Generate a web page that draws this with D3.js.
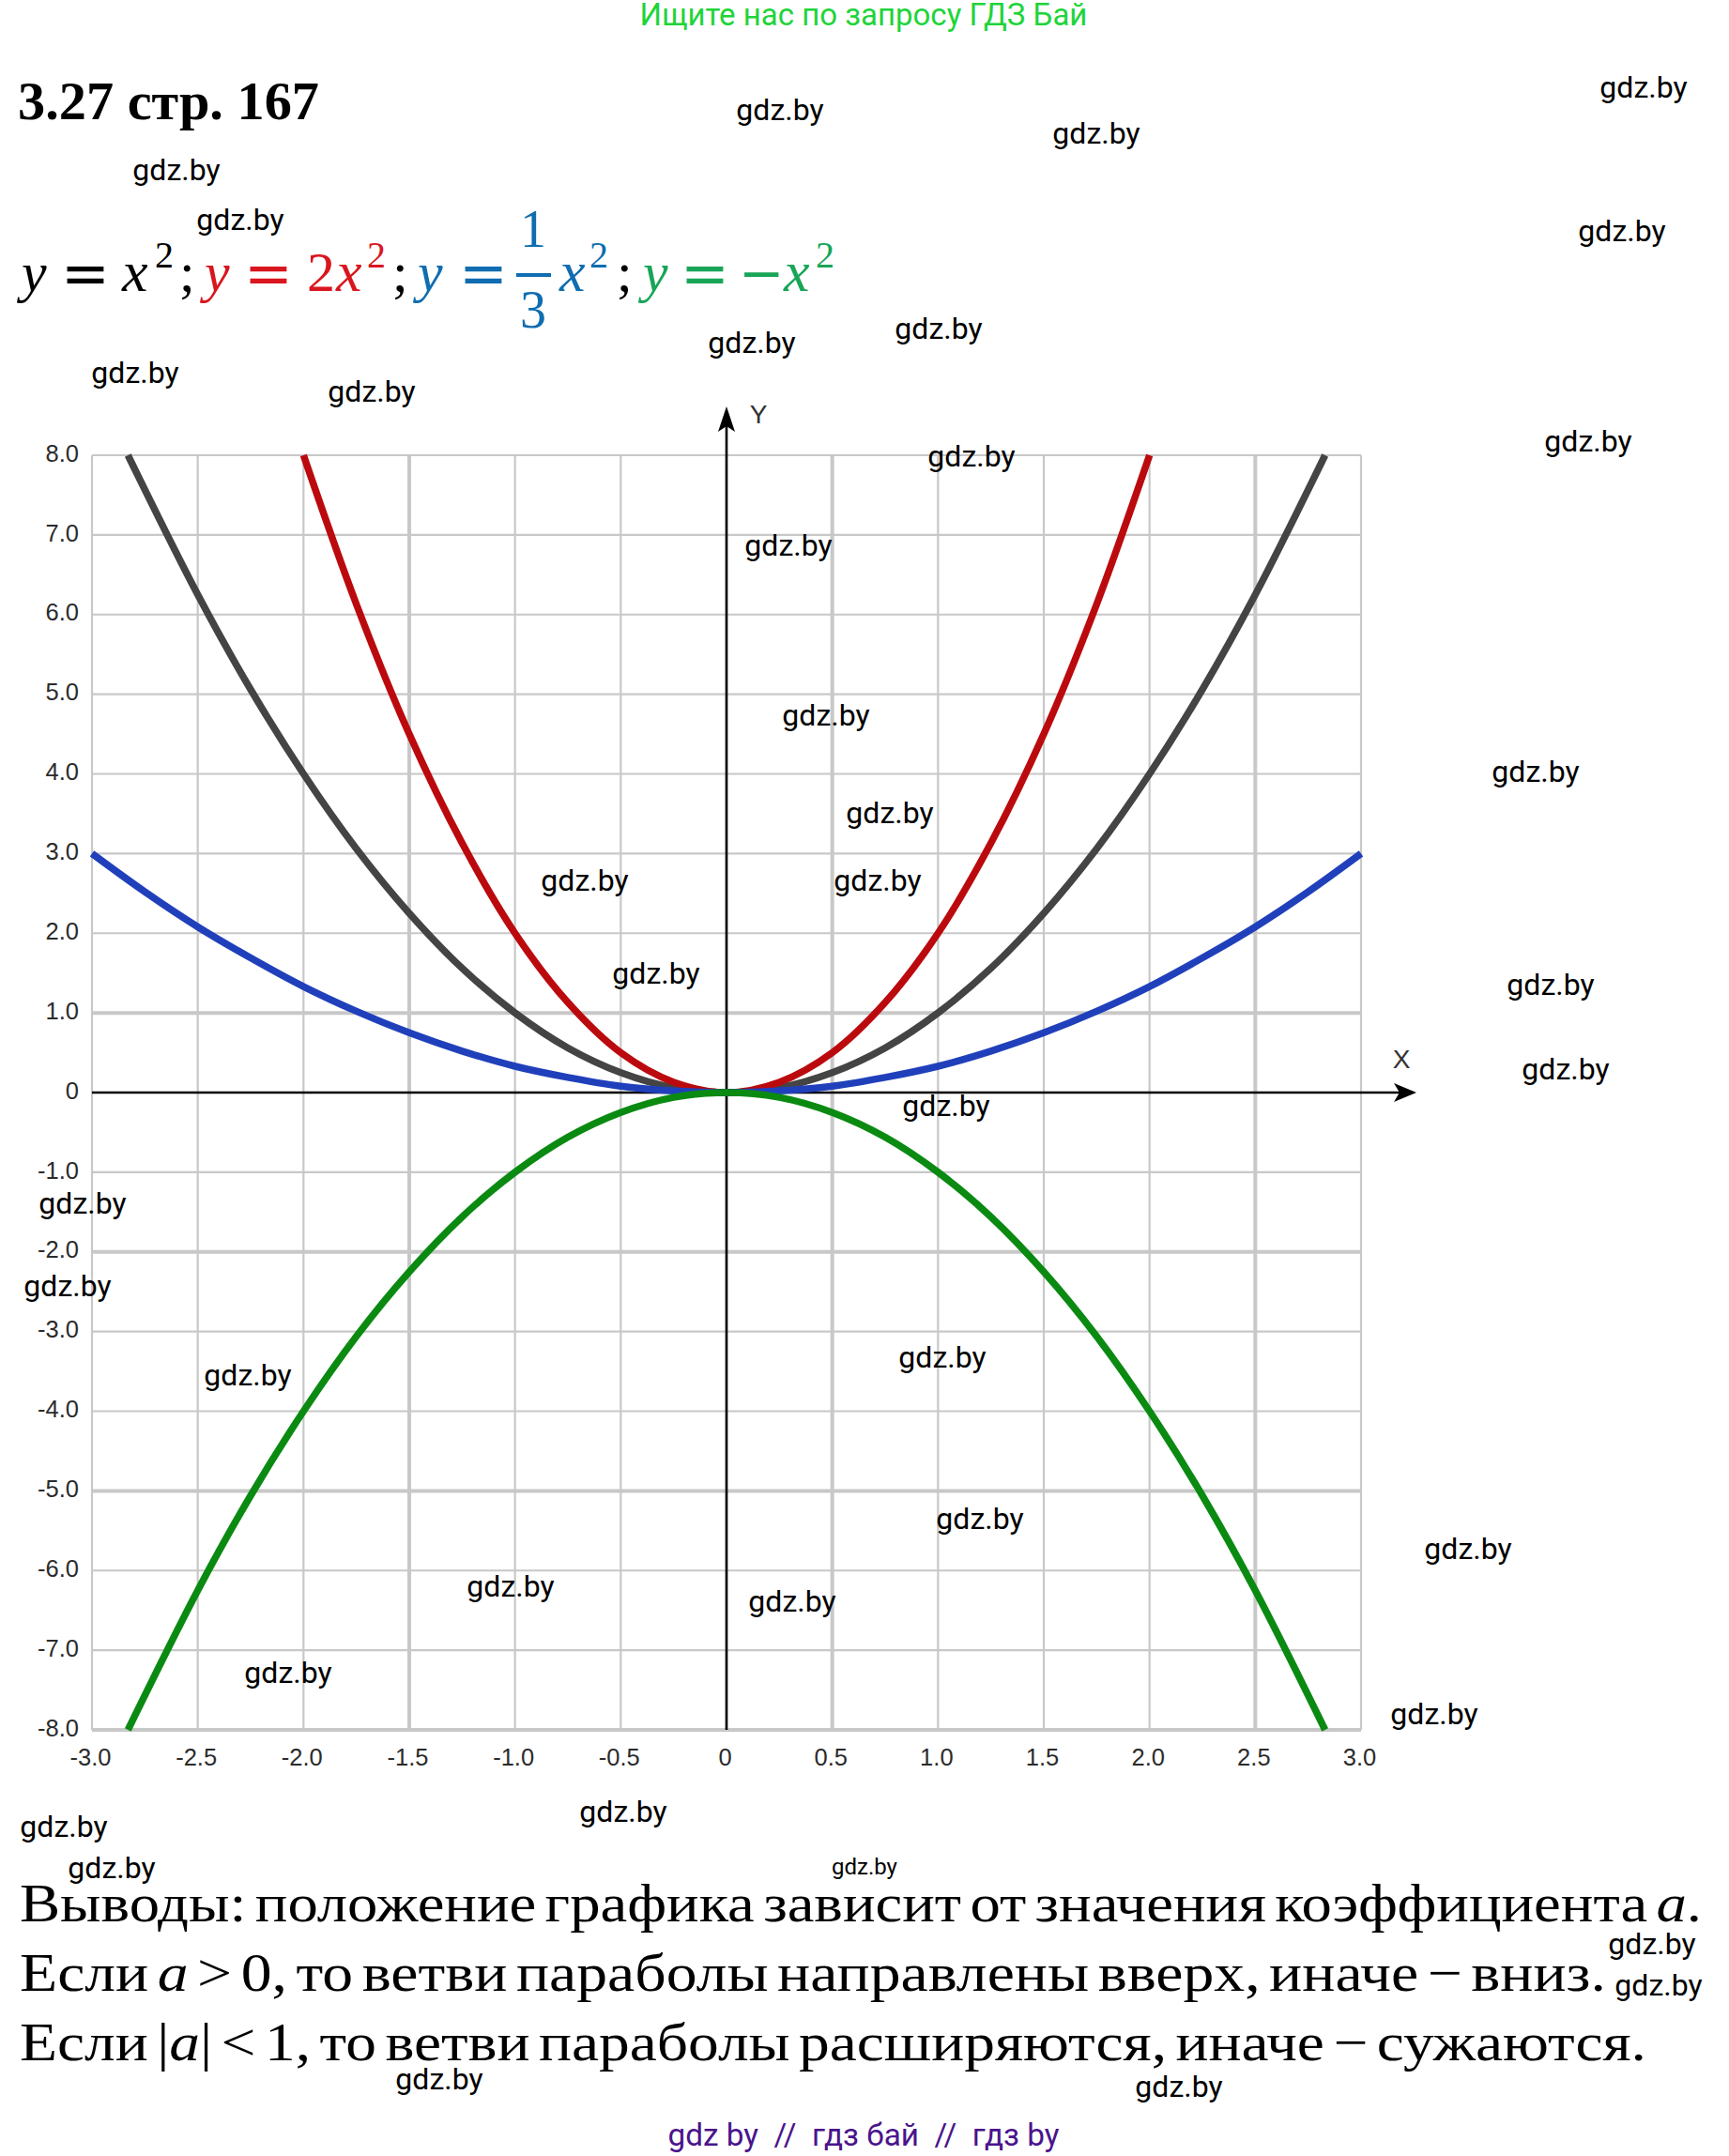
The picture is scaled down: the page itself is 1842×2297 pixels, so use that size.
<!DOCTYPE html>
<html>
<head>
<meta charset="utf-8">
<script src="https://cdn.jsdelivr.net/npm/d3@7"></script>
<style>
  html, body { margin: 0; padding: 0; background: #fff; }
  svg { display: block; }
</style>
</head>
<body>
<div id="graph"></div>
<script>
// values
const xTicks = [-3, -2.5, -2, -1.5, -1, -0.5, 0, 0.5, 1, 1.5, 2, 2.5, 3];
const xTickLabels = ["-3.0", "-2.5", "-2.0", "-1.5", "-1.0", "-0.5", "0", "0.5", "1.0", "1.5", "2.0", "2.5", "3.0"];
const yTicks = [8, 7, 6, 5, 4, 3, 2, 1, 0, -1, -2, -3, -4, -5, -6, -7, -8];
const yTickLabels = ["8.0", "7.0", "6.0", "5.0", "4.0", "3.0", "2.0", "1.0", "0", "-1.0", "-2.0", "-3.0", "-4.0", "-5.0", "-6.0", "-7.0", "-8.0"];

const xBlack = [-2.83, -2.5, -2.25, -2, -1.75, -1.5, -1.25, -1, -0.75, -0.5, -0.25, 0, 0.25, 0.5, 0.75, 1, 1.25, 1.5, 1.75, 2, 2.25, 2.5, 2.83];
const yBlack = [8, 6.25, 5.06, 4, 3.06, 2.25, 1.56, 1, 0.56, 0.25, 0.06, 0, 0.06, 0.25, 0.56, 1, 1.56, 2.25, 3.06, 4, 5.06, 6.25, 8];

const xRed = [-2, -1.75, -1.5, -1.25, -1, -0.75, -0.5, -0.25, 0, 0.25, 0.5, 0.75, 1, 1.25, 1.5, 1.75, 2];
const yRed = [8, 6.13, 4.5, 3.13, 2, 1.13, 0.5, 0.13, 0, 0.13, 0.5, 1.13, 2, 3.13, 4.5, 6.13, 8];

const xBlue = [-3, -2.75, -2.5, -2.25, -2, -1.75, -1.5, -1.25, -1, -0.75, -0.5, -0.25, 0, 0.25, 0.5, 0.75, 1, 1.25, 1.5, 1.75, 2, 2.25, 2.5, 2.75, 3];
const yBlue = [3, 2.52, 2.08, 1.69, 1.33, 1.02, 0.75, 0.52, 0.33, 0.19, 0.08, 0.02, 0, 0.02, 0.08, 0.19, 0.33, 0.52, 0.75, 1.02, 1.33, 1.69, 2.08, 2.52, 3];

const xGreen = [-2.83, -2.5, -2.25, -2, -1.75, -1.5, -1.25, -1, -0.75, -0.5, -0.25, 0, 0.25, 0.5, 0.75, 1, 1.25, 1.5, 1.75, 2, 2.25, 2.5, 2.83];
const yGreen = [-8, -6.25, -5.06, -4, -3.06, -2.25, -1.56, -1, -0.56, -0.25, -0.06, 0, -0.06, -0.25, -0.56, -1, -1.56, -2.25, -3.06, -4, -5.06, -6.25, -8];

// grid lines that come out heavier in the picture
const thickX = [-1.5, 0.5, 2.5];
const thickY = [1, -2, -5, -8];

const width = 1842;
const height = 2297;
const serif = "'Liberation Serif', serif";
const sans = "'Liberation Sans', sans-serif";
const mathSans = "'DejaVu Sans', sans-serif";

const svg = d3.select("#graph")
  .append("svg")
  .attr("width", width)
  .attr("height", height);

const x = d3.scaleLinear().domain([-3, 3]).range([98, 1450]);
const y = d3.scaleLinear().domain([8, -8]).range([485, 1843]);

// grid
svg.append("g")
  .selectAll("line")
  .data(xTicks)
  .enter()
  .append("line")
  .attr("x1", d => x(d))
  .attr("x2", d => x(d))
  .attr("y1", y(8))
  .attr("y2", y(-8))
  .style("stroke", "#c8c8c8")
  .style("stroke-width", d => thickX.includes(d) ? 4 : 2.2);

svg.append("g")
  .selectAll("line")
  .data(yTicks)
  .enter()
  .append("line")
  .attr("x1", x(-3))
  .attr("x2", x(3))
  .attr("y1", d => y(d))
  .attr("y2", d => y(d))
  .style("stroke", "#c8c8c8")
  .style("stroke-width", d => thickY.includes(d) ? 4 : 2.2);

// tick labels
const xAxis = d3.axisBottom(x)
  .tickValues(xTicks)
  .tickFormat((d, i) => xTickLabels[i])
  .tickSize(0)
  .tickPadding(20);
const yAxis = d3.axisLeft(y)
  .tickValues(yTicks)
  .tickFormat((d, i) => yTickLabels[i])
  .tickSize(0)
  .tickPadding(14);

svg.append("g").attr("transform", `translate(-2,${y(-8)})`).call(xAxis)
  .call(g => g.select(".domain").remove())
  .selectAll("text").style("font", `25.5px ${sans}`).style("fill", "#2b2b2b");
svg.append("g").attr("transform", `translate(${x(-3)},-2)`).call(yAxis)
  .call(g => g.select(".domain").remove())
  .selectAll("text").style("font", `25.5px ${sans}`).style("fill", "#2b2b2b");

// axes with arrows
svg.append("line").attr("x1", x(-3)).attr("x2", 1492).attr("y1", y(0)).attr("y2", y(0))
  .style("stroke", "#000").style("stroke-width", 2.6);
svg.append("line").attr("x1", x(0)).attr("x2", x(0)).attr("y1", y(-8)).attr("y2", 450)
  .style("stroke", "#000").style("stroke-width", 2.6);
svg.append("path")
  .attr("d", `M1509,${y(0)} L1485,${y(0) - 10} L1491,${y(0)} L1485,${y(0) + 10} Z`)
  .style("fill", "#000");
svg.append("path")
  .attr("d", `M${x(0)},433 L${x(0) - 9},460 L${x(0)},454 L${x(0) + 9},460 Z`)
  .style("fill", "#000");
svg.append("text").attr("x", 1493).attr("y", 1138).attr("text-anchor", "middle")
  .style("font", `28px ${sans}`).style("fill", "#333").text("X");
svg.append("text").attr("x", 808).attr("y", 451).attr("text-anchor", "middle")
  .style("font", `28px ${sans}`).style("fill", "#333").text("Y");

// curves
const line = d3.line()
  .x(d => x(d[0]))
  .y(d => y(d[1]))
  .curve(d3.curveCatmullRom.alpha(0.5));

const curves = [
  { xs: xBlack, ys: yBlack, color: "#444444" },
  { xs: xRed, ys: yRed, color: "#bb0a0e" },
  { xs: xBlue, ys: yBlue, color: "#2040bb" },
  { xs: xGreen, ys: yGreen, color: "#0b8a12" }
];

svg.append("g")
  .selectAll("path")
  .data(curves)
  .enter()
  .append("path")
  .attr("d", d => line(d.xs.map((v, i) => [v, d.ys[i]])))
  .style("fill", "none")
  .style("stroke", d => d.color)
  .style("stroke-width", 7.5);

// title and formula
svg.append("text").attr("x", 19).attr("y", 127)
  .attr("textLength", 321).attr("lengthAdjust", "spacingAndGlyphs")
  .style("font", `bold 58px ${serif}`).style("fill", "#000").text("3.27 стр. 167");

const formula = [
  ["y", 23, 310, 60, "italic", "#000", serif], ["=", 65, 313, 62, "normal", "#000", mathSans], ["x", 130, 310, 62, "italic", "#000", serif],
  ["2", 165, 285, 40, "normal", "#000", serif], [";", 191, 310, 60, "normal", "#000", serif],
  ["y", 218, 310, 60, "italic", "#d9161e", serif], ["=", 260, 313, 62, "normal", "#d9161e", mathSans], ["2", 327, 310, 60, "normal", "#d9161e", serif],
  ["x", 358, 310, 62, "italic", "#d9161e", serif], ["2", 391, 285, 40, "normal", "#d9161e", serif], [";", 418, 310, 60, "normal", "#000", serif],
  ["y", 445, 310, 60, "italic", "#0f6db0", serif], ["=", 489, 313, 62, "normal", "#0f6db0", mathSans], ["1", 554, 263, 56, "normal", "#0f6db0", serif],
  ["3", 554, 349, 56, "normal", "#0f6db0", serif], ["x", 596, 310, 62, "italic", "#0f6db0", serif], ["2", 628, 285, 40, "normal", "#0f6db0", serif],
  [";", 657, 310, 60, "normal", "#000", serif],
  ["y", 685, 310, 60, "italic", "#18a558", serif], ["=", 725, 313, 62, "normal", "#18a558", mathSans], ["−", 787, 311, 58, "normal", "#18a558", mathSans],
  ["x", 835, 310, 62, "italic", "#18a558", serif], ["2", 869, 285, 40, "normal", "#18a558", serif]
];

svg.append("g")
  .selectAll("text")
  .data(formula)
  .enter()
  .append("text")
  .attr("x", d => d[1])
  .attr("y", d => d[2])
  .style("font", d => `${d[4]} ${d[3]}px ${d[6]}`)
  .style("fill", d => d[5])
  .text(d => d[0]);

svg.append("rect").attr("x", 550).attr("y", 291).attr("width", 37).attr("height", 4).style("fill", "#0f6db0");

// conclusions
const notes = [
  { y: 2047, len: 1792, parts: [["Выводы: положение графика зависит от значения коэффициента ", "normal"], ["a", "italic"], [".", "normal"]] },
  { y: 2121, len: 1690, parts: [["Если ", "normal"], ["a", "italic"], [" > 0, то ветви параболы направлены вверх, иначе − вниз.", "normal"]] },
  { y: 2195, len: 1733, parts: [["Если |", "normal"], ["a", "italic"], ["| < 1, то ветви параболы расширяются, иначе − сужаются.", "normal"]] }
];

notes.forEach(n => {
  const t = svg.append("text").attr("x", 21).attr("y", n.y)
    .attr("textLength", n.len).attr("lengthAdjust", "spacingAndGlyphs")
    .style("font", `57px ${serif}`).style("word-spacing", "-6px").style("fill", "#000");
  n.parts.forEach(p => t.append("tspan").style("font-style", p[1]).text(p[0]));
});

// header and footer lines
svg.append("text").attr("x", 920).attr("y", 27).attr("text-anchor", "middle")
  .style("font", "33px Roboto").style("fill", "#1fd43a").text("Ищите нас по запросу ГДЗ Бай");
svg.append("text").attr("x", 920).attr("y", 2286).attr("text-anchor", "middle")
  .style("font", "33.3px Roboto").style("white-space", "pre").style("fill", "#4a148c").text("gdz by  //  гдз бай  //  гдз by");

// watermarks
const marks = [
  [1751, 95], [831, 119], [1168, 144], [188, 183], [256, 236], [1728, 248], [1000, 352], [801, 367],
  [144, 399], [396, 419], [1692, 472], [1035, 488], [840, 583], [880, 764], [1636, 824], [948, 868],
  [623, 940], [935, 940], [699, 1039], [1652, 1051], [1668, 1141], [1008, 1180], [88, 1284], [72, 1372],
  [264, 1467], [1004, 1448], [1044, 1620], [1564, 1652], [544, 1692], [844, 1708], [307, 1784], [1528, 1828],
  [664, 1932], [68, 1948], [119, 1992], [1760, 2073], [1767, 2117], [468, 2217], [1256, 2225]
];

svg.append("g")
  .selectAll("text")
  .data(marks)
  .enter()
  .append("text")
  .attr("x", d => d[0])
  .attr("y", d => d[1] + 9)
  .attr("text-anchor", "middle")
  .style("font", "32px Roboto")
  .style("fill", "#000")
  .text("gdz.by");

svg.append("text").attr("x", 921).attr("y", 1997).attr("text-anchor", "middle")
  .style("font", "24px Roboto").style("fill", "#000").text("gdz.by");
</script>
</body>
</html>
